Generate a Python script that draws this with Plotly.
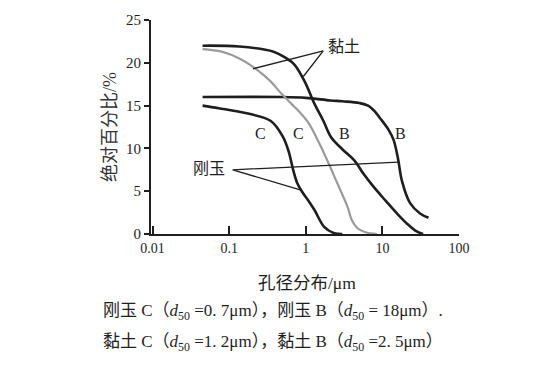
import math
import plotly.graph_objects as go

# ---- data ----
corundum_C_x = [0.045, 0.073, 0.17, 0.35, 0.5, 0.6, 0.68, 0.77, 0.9, 1.1, 1.3, 1.75, 2.35, 3.0]
corundum_C_y = [15.0, 14.7, 14.1, 13.2, 11.4, 9.6, 7.6, 6.0, 4.9, 3.8, 2.8, 0.8, 0.1, 0.0]

corundum_B_x = [0.045, 0.5, 1.0, 2.1, 3.0, 5.0, 6.5, 8.0, 9.4, 12, 14, 16, 18, 23, 31, 40]
corundum_B_y = [16.0, 16.0, 15.9, 15.6, 15.5, 15.3, 15.0, 14.3, 13.5, 12.2, 11.0, 8.8, 6.2, 3.6, 2.4, 1.9]

clay_B_x = [0.045, 0.136, 0.38, 0.52, 0.71, 0.97, 1.3, 1.7, 2.14, 3.0, 4.3, 5.7, 7.7, 11, 15.5, 21, 28, 34]
clay_B_y = [22.0, 21.9, 21.3, 20.7, 19.8, 17.8, 15.2, 13.2, 11.3, 9.9, 8.6, 7.0, 5.5, 3.9, 2.4, 1.2, 0.3, 0.0]

clay_C_x = [0.045, 0.08, 0.136, 0.23, 0.35, 0.48, 0.65, 0.8, 1.08, 1.5, 2.0, 2.5, 3.5, 4.0, 4.7, 6.0, 8.5]
clay_C_y = [21.6, 21.3, 20.5, 19.2, 17.8, 16.4, 15.2, 14.4, 13.0, 10.6, 8.2, 6.2, 3.2, 1.6, 0.7, 0.2, 0.0]

x_tickvals = [0.01, 0.1, 1, 10, 100]
x_ticktext = ["0.01", "0.1", "1", "10", "100"]
y_tickvals = [0, 5, 10, 15, 20, 25]

# leader lines (curve point -> label anchor -> curve point)
clay_leader_x = [0.204, 1.69, 0.93]
clay_leader_y = [19.3, 21.4, 18.4]
corundum_leader_x = [16.3, 0.111, 0.89]
corundum_leader_y = [8.4, 7.5, 5.1]

# curve letter labels
letter_x = [0.254, 0.80, 3.16, 17.1]
letter_y = [11.7, 11.7, 11.7, 11.7]
letter_t = ["C", "C", "B", "B"]

SERIF = "Liberation Serif, Times New Roman, Noto Sans CJK SC, serif"
BLACK = "#1e1e1e"
GRAY = "#9a9a9a"

fig = go.Figure()

def add_curve(x, y, color, width):
    fig.add_trace(go.Scatter(x=x, y=y, mode="lines",
                             line=dict(color=color, width=width, shape="spline", smoothing=1.0),
                             hoverinfo="skip", showlegend=False))

add_curve(corundum_C_x, corundum_C_y, BLACK, 2.6)
add_curve(corundum_B_x, corundum_B_y, BLACK, 2.6)
add_curve(clay_B_x, clay_B_y, BLACK, 2.6)
add_curve(clay_C_x, clay_C_y, GRAY, 2.2)

for lx, ly in [(clay_leader_x, clay_leader_y), (corundum_leader_x, corundum_leader_y)]:
    fig.add_trace(go.Scatter(x=lx, y=ly, mode="lines",
                             line=dict(color=BLACK, width=1.3),
                             hoverinfo="skip", showlegend=False))

for xv, yv, t in zip(letter_x, letter_y, letter_t):
    fig.add_annotation(x=math.log10(xv), y=yv, text=t, showarrow=False,
                       xref="x", yref="y", font=dict(family=SERIF, size=16, color=BLACK))

fig.add_annotation(x=math.log10(3.16), y=21.9, text="黏土", showarrow=False,
                   xref="x", yref="y", xanchor="center", yanchor="middle",
                   font=dict(family=SERIF, size=16, color=BLACK))
fig.add_annotation(x=math.log10(0.054), y=7.6, text="刚玉", showarrow=False,
                   xref="x", yref="y", xanchor="center", yanchor="middle",
                   font=dict(family=SERIF, size=16, color=BLACK))

# axis titles
fig.add_annotation(x=-0.133, y=0.5, xref="paper", yref="paper", text="绝对百分比/%",
                   showarrow=False, textangle=-90, xanchor="center", yanchor="middle",
                   font=dict(family=SERIF, size=18, color="#333"))
fig.add_annotation(x=0.508, y=-0.227, xref="paper", yref="paper", text="孔径分布/μm",
                   showarrow=False, xanchor="center", yanchor="middle",
                   font=dict(family=SERIF, size=17.5, color=BLACK))

# caption lines
fig.add_annotation(x=-0.162, y=-0.366, xref="paper", yref="paper", xanchor="left", yanchor="middle",
                   text="刚玉 C（<i>d</i><sub>50</sub> =0. 7μm），刚玉 B（<i>d</i><sub>50</sub> = 18μm）.",
                   showarrow=False, font=dict(family=SERIF, size=17, color=BLACK))
fig.add_annotation(x=-0.162, y=-0.509, xref="paper", yref="paper", xanchor="left", yanchor="middle",
                   text="黏土 C（<i>d</i><sub>50</sub> =1. 2μm），黏土 B（<i>d</i><sub>50</sub> =2. 5μm）",
                   showarrow=False, font=dict(family=SERIF, size=17, color=BLACK))

fig.update_layout(
    width=554, height=373,
    margin=dict(l=151, r=95, t=18, b=139),
    paper_bgcolor="white", plot_bgcolor="white",
    showlegend=False,
    xaxis=dict(type="log", range=[-2.02, 2.0], showgrid=False, zeroline=False,
               showline=True, linecolor=BLACK, linewidth=2,
               ticks="inside", ticklen=8, tickwidth=1.5, tickcolor=BLACK,
               tickvals=x_tickvals, ticktext=x_ticktext,
               tickfont=dict(family=SERIF, size=14, color=BLACK)),
    yaxis=dict(range=[0, 25], showgrid=False, zeroline=False,
               showline=True, linecolor=BLACK, linewidth=2,
               ticks="outside", ticklen=5, tickwidth=1.5, tickcolor=BLACK,
               tickvals=y_tickvals,
               tickfont=dict(family=SERIF, size=15, color=BLACK)),
)

fig.write_html("out.html", config={"displayModeBar": False},
               post_script="document.body.style.margin='0px';document.body.style.overflow='hidden';")
